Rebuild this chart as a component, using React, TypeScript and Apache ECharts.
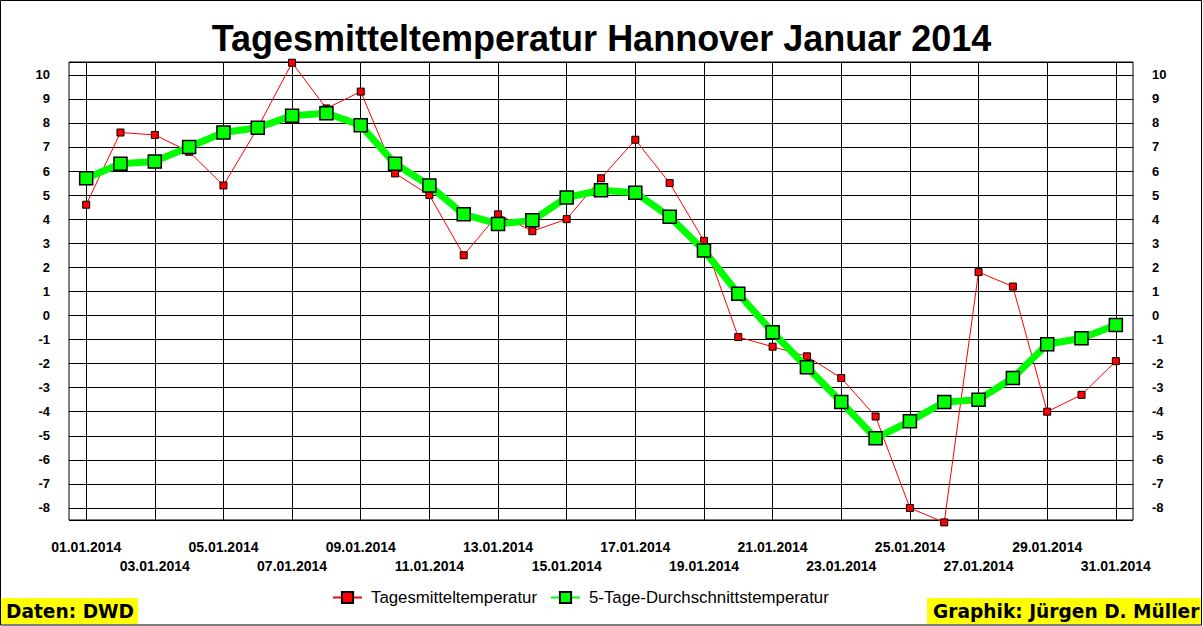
import React, { useEffect, useRef } from 'react';
import * as echarts from 'echarts';

const days: string[] = [
  '01.01.2014', '02.01.2014', '03.01.2014', '04.01.2014', '05.01.2014', '06.01.2014', '07.01.2014', '08.01.2014',
  '09.01.2014', '10.01.2014', '11.01.2014', '12.01.2014', '13.01.2014', '14.01.2014', '15.01.2014', '16.01.2014',
  '17.01.2014', '18.01.2014', '19.01.2014', '20.01.2014', '21.01.2014', '22.01.2014', '23.01.2014', '24.01.2014',
  '25.01.2014', '26.01.2014', '27.01.2014', '28.01.2014', '29.01.2014', '30.01.2014', '31.01.2014',
];

const dailyMean: number[] = [
  4.6, 7.6, 7.5, 6.8, 5.4, 7.8, 10.5, 8.6, 9.3, 5.9, 5.0, 2.5, 4.2, 3.5, 4.0, 5.7,
  7.3, 5.5, 3.1, -0.9, -1.3, -1.7, -2.6, -4.2, -8.0, -8.6, 1.8, 1.2, -4.0, -3.3, -1.9,
];

const fiveDayMean: number[] = [
  5.7, 6.3, 6.4, 7.0, 7.6, 7.8, 8.3, 8.4, 7.9, 6.3, 5.4, 4.2, 3.8, 3.95, 4.9, 5.2,
  5.1, 4.1, 2.7, 0.9, -0.7, -2.15, -3.6, -5.1, -4.4, -3.6, -3.5, -2.6, -1.2, -0.95, -0.4,
];

const seriesNames = ['Tagesmitteltemperatur', '5-Tage-Durchschnittstemperatur'];
const titleText = 'Tagesmitteltemperatur Hannover Januar 2014';
const sourceText = 'Daten: DWD';
const authorText = 'Graphik: Jürgen D. Müller';

const FONT = "'Liberation Sans', Arial, sans-serif";
const BOX_FONT = "'DejaVu Sans', Verdana, sans-serif";

export default function App() {
  const ref = useRef<HTMLDivElement>(null);

  useEffect(() => {
    document.body.style.margin = '0';
    if (!ref.current) return;
    const chart = echarts.init(ref.current, null, { renderer: 'svg' });

    const yAxisBase = {
      type: 'value',
      min: -8.5,
      max: 10.53,
      minInterval: 1,
      maxInterval: 1,
      splitNumber: 19,
      axisLine: { show: false },
      axisTick: { show: false },
      axisLabel: {
        showMinLabel: false,
        showMaxLabel: false,
        margin: 19,
        fontFamily: FONT,
        fontSize: 13,
        fontWeight: 'bold',
        color: '#000',
      },
    };

    const xLabelBase = {
      margin: 20,
      showMinLabel: true,
      showMaxLabel: true,
      hideOverlap: false,
      fontFamily: FONT,
      fontSize: 14,
      fontWeight: 'bold',
      color: '#000',
    };

    const option: any = {
      animation: false,
      backgroundColor: '#ffffff',
      title: {
        text: titleText,
        left: 'center',
        top: 20,
        padding: 0,
        textStyle: { fontFamily: FONT, fontSize: 36, fontWeight: 'bold', color: '#000' },
      },
      grid: {
        left: 69,
        right: 70,
        top: 62,
        bottom: 106,
        show: true,
        borderColor: '#000',
        borderWidth: 1,
        backgroundColor: 'transparent',
      },
      legend: {
        left: 332,
        top: 589,
        itemWidth: 29,
        itemHeight: 14,
        itemGap: 13,
        padding: 0,
        data: seriesNames,
        textStyle: { fontFamily: FONT, fontSize: 16.8, color: '#000', padding: [0, 0, 0, 4] },
      },
      xAxis: [
        {
          type: 'category',
          data: days,
          boundaryGap: true,
          position: 'bottom',
          axisLine: { show: true, lineStyle: { color: '#000', width: 1 } },
          axisTick: { show: false },
          axisLabel: {
            ...xLabelBase,
            interval: (i: number) => i % 4 === 0,
          },
          splitLine: {
            show: true,
            interval: 1,
            alignWithLabel: true,
            lineStyle: { color: '#000', width: 1 },
          },
        },
        {
          type: 'category',
          data: days,
          boundaryGap: true,
          position: 'bottom',
          offset: 19,
          axisLine: { show: false },
          axisTick: { show: false },
          axisLabel: {
            ...xLabelBase,
            interval: (i: number) => i % 4 === 2,
          },
          splitLine: { show: false },
        },
      ],
      yAxis: [
        {
          ...yAxisBase,
          position: 'left',
          splitLine: { show: true, lineStyle: { color: '#000', width: 1 } },
        },
        {
          ...yAxisBase,
          position: 'right',
          splitLine: { show: false },
        },
      ],
      series: [
        {
          name: seriesNames[0],
          type: 'line',
          data: dailyMean,
          xAxisIndex: 0,
          yAxisIndex: 0,
          symbol: 'rect',
          symbolSize: 7,
          clip: false,
          z: 2,
          lineStyle: { color: '#ff0000', width: 1 },
          itemStyle: { color: '#ff0000', borderColor: '#000', borderWidth: 1 },
          emphasis: { disabled: true },
        },
        {
          name: seriesNames[1],
          type: 'line',
          data: fiveDayMean,
          xAxisIndex: 0,
          yAxisIndex: 0,
          symbol: 'rect',
          symbolSize: 13,
          clip: false,
          z: 3,
          lineStyle: { color: '#00ff00', width: 7 },
          itemStyle: { color: '#00ff00', borderColor: '#000', borderWidth: 1.5 },
          emphasis: { disabled: true },
        },
      ],
      graphic: [
        {
          type: 'rect',
          silent: true,
          z: 100,
          shape: { x: 0.5, y: 0.5, width: 1201, height: 624.5 },
          style: { fill: 'none', stroke: '#000', lineWidth: 1 },
        },
        {
          type: 'rect',
          silent: true,
          shape: { x: 1, y: 598, width: 137, height: 26 },
          style: { fill: '#ffff00' },
        },
        {
          type: 'text',
          silent: true,
          x: 6,
          y: 611,
          style: {
            text: sourceText,
            fontFamily: BOX_FONT,
            fontSize: 18.6,
            fontWeight: 'bold',
            fill: '#000',
            align: 'left',
            verticalAlign: 'middle',
          },
        },
        {
          type: 'rect',
          silent: true,
          shape: { x: 927, y: 598, width: 274, height: 26 },
          style: { fill: '#ffff00' },
        },
        {
          type: 'text',
          silent: true,
          x: 933,
          y: 611,
          style: {
            text: authorText,
            fontFamily: BOX_FONT,
            fontSize: 18.6,
            fontWeight: 'bold',
            fill: '#000',
            align: 'left',
            verticalAlign: 'middle',
          },
        },
      ],
    };

    chart.setOption(option);
    return () => {
      chart.dispose();
    };
  }, []);

  return <div ref={ref} style={{ width: 1203, height: 626 }} />;
}
